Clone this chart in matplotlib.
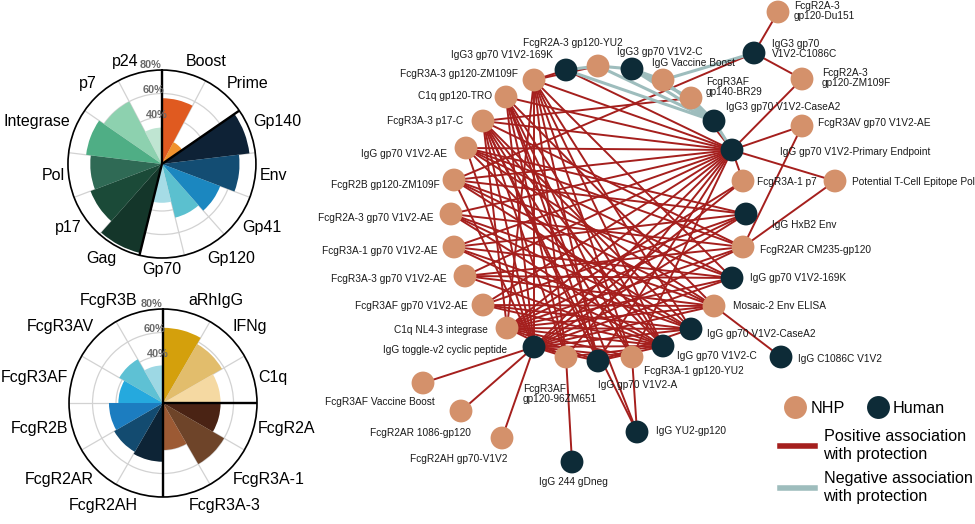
import numpy as np
import matplotlib
matplotlib.use("Agg")
import matplotlib.pyplot as plt
from matplotlib.lines import Line2D
from matplotlib.collections import LineCollection

plt.rcParams['font.family'] = ['Liberation Sans', 'DejaVu Sans']

# ---- rose charts (% of features) ----
top_cats = ['Boost', 'Prime', 'Gp140', 'Env', 'Gp41', 'Gp120', 'Gp70',
            'Gag', 'p17', 'Pol', 'Integrase', 'p7', 'p24']
top_vals = [56, 21, 75, 66, 53, 47, 33, 78, 65, 61, 65, 60, 31]
top_colors = ['#E05A20', '#F0922E', '#0E2236', '#134D73', '#1B87C0', '#5BC0CF', '#A6DCE6',
              '#14362A', '#1B4A38', '#2F6A55', '#4FAE85', '#8DD1AF', '#BFE5D2']
top_group_starts = [0, 2, 7]

bot_cats = ['aRhIgG', 'IFNg', 'C1q', 'FcgR2A', 'FcgR3A-1', 'FcgR3A-3',
            'FcgR2AH', 'FcgR2AR', 'FcgR2B', 'FcgR3AF', 'FcgR3AV', 'FcgR3B']
bot_vals = [64, 58, 49, 49, 60, 40, 50, 48, 46, 38, 43, 32]
bot_colors = ['#D4A00C', '#E2BD6C', '#F5D9A2', '#4A2314', '#6E4429', '#9C5A34',
              '#0D2436', '#134B70', '#1C7DC0', '#25A9DE', '#5EC1D4', '#9DD8E4']
bot_group_starts = [0, 3, 6]

r_ticks = [40, 60, 80]

# ---- network ----
node_ids = ['du151', 'c1086c3', 'zm109f_r', 'g3_169k', 'yu2_r2a', 'g3_c', 'vboost', 'br29',
            'g3_casea2', 'pe', 'r3av', 'p7', 'tcell', 'hxb2', 'cm235', 'g_169k', 'mosaic',
            'g_casea2', 'g_c', 'g_c1086c', 'r3a1_yu2', 'g_a', 'g_yu2', 'zm651', 'gdneg',
            'toggle', 'c1q_nl43', 'r3af_ae', 'r3a3_ae', 'r3a1_ae', 'r2a3_ae', 'r2b', 'g_ae',
            'p17c', 'c1q_tro', 'r3a3_zm', 'r3af_vb', 'r2ar_1086', 'r2ah']
node_labels = ['FcgR2A-3\ngp120-Du151', 'IgG3 gp70\nV1V2-C1086C', 'FcgR2A-3\ngp120-ZM109F',
               'IgG3 gp70 V1V2-169K', 'FcgR2A-3 gp120-YU2', 'IgG3 gp70 V1V2-C',
               'IgG Vaccine Boost', 'FcgR3AF\ngp140-BR29', 'IgG3 gp70 V1V2-CaseA2',
               'IgG gp70 V1V2-Primary Endpoint', 'FcgR3AV gp70 V1V2-AE', 'FcgR3A-1 p7',
               'Potential T-Cell Epitope Pol', 'IgG HxB2 Env', 'FcgR2AR CM235-gp120',
               'IgG gp70 V1V2-169K', 'Mosaic-2 Env ELISA', 'IgG gp70 V1V2-CaseA2',
               'IgG gp70 V1V2-C', 'IgG C1086C V1V2', 'FcgR3A-1 gp120-YU2', 'IgG gp70 V1V2-A',
               'IgG YU2-gp120', 'FcgR3AF\ngp120-96ZM651', 'IgG 244 gDneg',
               'IgG toggle-v2 cyclic peptide', 'C1q NL4-3 integrase', 'FcgR3AF gp70 V1V2-AE',
               'FcgR3A-3 gp70 V1V2-AE', 'FcgR3A-1 gp70 V1V2-AE', 'FcgR2A-3 gp70 V1V2-AE',
               'FcgR2B gp120-ZM109F', 'IgG gp70 V1V2-AE', 'FcgR3A-3 p17-C', 'C1q gp120-TRO',
               'FcgR3A-3 gp120-ZM109F', 'FcgR3AF Vaccine Boost', 'FcgR2AR 1086-gp120',
               'FcgR2AH gp70-V1V2']
node_kind = ['NHP', 'Human', 'NHP', 'Human', 'NHP', 'Human', 'NHP', 'NHP',
             'Human', 'Human', 'NHP', 'NHP', 'NHP', 'Human', 'NHP', 'Human', 'NHP',
             'Human', 'Human', 'Human', 'NHP', 'Human', 'Human', 'NHP', 'Human',
             'Human', 'NHP', 'NHP', 'NHP', 'NHP', 'NHP', 'NHP', 'NHP',
             'NHP', 'NHP', 'NHP', 'NHP', 'NHP', 'NHP']
# layout coordinates (pixel space of the original figure)
node_x = [778, 754, 802, 566, 598, 632, 663, 691, 714, 732, 802, 743, 835, 746, 743, 732, 714,
          691, 663, 781, 632, 598, 637, 566, 572, 534, 507, 483, 465, 454, 451, 454, 466,
          483, 506, 534, 423, 461, 502]
node_y = [12, 53, 79, 70, 66, 69, 80, 98, 121, 150, 126, 181, 181, 214, 247, 278, 306,
          329, 346, 357, 357, 361, 432, 357, 462, 347, 328, 305, 276, 247, 214, 180, 148,
          121, 97, 80, 383, 411, 438]

neg_edges = [('g3_169k', 'yu2_r2a'), ('yu2_r2a', 'g3_c'), ('g3_c', 'vboost'), ('vboost', 'c1086c3'),
             ('g3_169k', 'g3_casea2'), ('yu2_r2a', 'g3_casea2'), ('g3_c', 'g3_casea2'),
             ('vboost', 'g3_casea2'), ('br29', 'g3_casea2'), ('g3_casea2', 'pe'), ('g3_c', 'br29')]

pos_edges = [('du151', 'c1086c3'), ('c1086c3', 'zm109f_r'), ('c1086c3', 'r2b'), ('zm109f_r', 'pe'),
             ('g3_169k', 'r3a3_zm'), ('yu2_r2a', 'r3a3_zm'),
             ('zm651', 'gdneg'), ('g_yu2', 'r3a1_yu2'), ('g_c1086c', 'mosaic'), ('r3av', 'cm235'),
             ('tcell', 'cm235'), ('br29', 'p17c'), ('zm651', 'g_c'), ('g_a', 'g_casea2'), ('g_a', 'g_c')]
pos_edges += [('pe', n) for n in ['r3a3_zm', 'c1q_tro', 'p17c', 'g_ae', 'r2b', 'r2a3_ae', 'r3a1_ae',
                                  'r3a3_ae', 'r3af_ae', 'c1q_nl43', 'toggle', 'zm651', 'g_a',
                                  'r3a1_yu2', 'r3av', 'tcell', 'p7', 'br29', 'g3_169k']]
pos_edges += [('toggle', n) for n in ['r3af_vb', 'r2ar_1086', 'r2ah', 'p7', 'hxb2', 'cm235', 'g_169k',
                                      'mosaic', 'g_casea2', 'g_c', 'r3a3_zm', 'c1q_tro', 'p17c',
                                      'g_ae', 'r2b', 'zm651', 'g_a', 'r3a1_yu2']]
pos_edges += [('c1q_nl43', n) for n in ['hxb2', 'cm235', 'g_169k', 'p7', 'mosaic', 'g_casea2', 'g_c',
                                        'r3a1_yu2', 'g_a', 'zm651', 'r3a3_zm', 'p17c']]
pos_edges += [('g_ae', n) for n in ['cm235', 'g_169k', 'mosaic', 'g_c', 'hxb2']]
pos_edges += [('r2b', n) for n in ['hxb2', 'g_169k', 'g_casea2', 'mosaic']]
pos_edges += [('r2a3_ae', n) for n in ['cm235', 'mosaic', 'g_casea2', 'g_c']]
pos_edges += [('r3a1_ae', n) for n in ['hxb2', 'g_169k', 'g_casea2', 'g_c']]
pos_edges += [('r3a3_ae', n) for n in ['cm235', 'mosaic', 'g_c', 'g_169k']]
pos_edges += [('r3af_ae', n) for n in ['hxb2', 'g_casea2', 'g_c', 'mosaic']]
pos_edges += [('r3a3_zm', n) for n in ['zm651', 'g_a', 'r3a1_yu2', 'g_c', 'g_casea2', 'g_169k']]
pos_edges += [('c1q_tro', n) for n in ['zm651', 'g_a', 'r3a1_yu2', 'g_yu2', 'g_c', 'mosaic']]
pos_edges += [('p17c', n) for n in ['zm651', 'g_a', 'r3a1_yu2', 'g_yu2', 'g_casea2', 'g_c', 'cm235']]

# label placement: (x, y, ha)
label_layout = [(794, 11, 'left'), (772, 49, 'left'), (822, 78, 'left'), (553, 55, 'right'),
                (573, 43, 'center'), (660, 52, 'center'), (652, 63, 'left'), (706, 87, 'left'),
                (726, 107, 'left'), (780, 152, 'left'), (818, 123, 'left'), (757, 182, 'left'),
                (852, 182, 'left'), (772, 225, 'left'), (760, 250, 'left'), (750, 278, 'left'),
                (733, 306, 'left'), (707, 334, 'left'), (677, 356, 'left'), (798, 359, 'left'),
                (644, 371, 'left'), (598, 385, 'left'), (656, 431, 'left'), (523, 394, 'left'),
                (573, 482, 'center'), (507, 350, 'right'), (488, 330, 'right'), (468, 306, 'right'),
                (447, 279, 'right'), (437, 251, 'right'), (433, 218, 'right'), (440, 185, 'right'),
                (447, 154, 'right'), (463, 121, 'right'), (492, 96, 'right'), (518, 74, 'right'),
                (380, 402, 'center'), (420, 433, 'center'), (459, 459, 'center')]

NHP_COLOR = '#D4916B'
HUMAN_COLOR = '#0D2B37'
POS_COLOR = '#A51F1D'
NEG_COLOR = '#9EBDBD'

fig = plt.figure(figsize=(9.75, 5.24), dpi=100)

# network axes spans the figure in pixel space
ax = fig.add_axes([0, 0, 1, 1])
ax.set_xlim(0, 975)
ax.set_ylim(524, 0)
ax.axis('off')

pos = {n: (x, y) for n, x, y in zip(node_ids, node_x, node_y)}
ax.add_collection(LineCollection([[pos[a], pos[b]] for a, b in pos_edges],
                                 colors=POS_COLOR, linewidths=1.4, zorder=1))
ax.add_collection(LineCollection([[pos[a], pos[b]] for a, b in neg_edges],
                                 colors=NEG_COLOR, linewidths=2.2, zorder=2))
cols = [NHP_COLOR if k == 'NHP' else HUMAN_COLOR for k in node_kind]
ax.scatter(node_x, node_y, s=270, c=cols, edgecolors='none', zorder=3)
for lab, (lx, ly, ha) in zip(node_labels, label_layout):
    ax.text(lx, ly, lab, fontsize=7.3, ha=ha, va='center', color='#1a1a1a',
            linespacing=1.05, zorder=4)

node_handles = [Line2D([], [], ls='none', marker='o', ms=16.5, mfc=NHP_COLOR, mec='none', label='NHP'),
                Line2D([], [], ls='none', marker='o', ms=16.5, mfc=HUMAN_COLOR, mec='none', label='Human')]
leg1 = ax.legend(handles=node_handles, ncol=2, loc='upper left', bbox_to_anchor=(0.803, 0.235),
                 frameon=False, fontsize=11.6, handletextpad=0.2, columnspacing=1.3,
                 borderpad=0, borderaxespad=0, handlelength=1.5)
ax.add_artist(leg1)
edge_handles = [Line2D([], [], color=POS_COLOR, lw=4, label='Positive association\nwith protection'),
                Line2D([], [], color=NEG_COLOR, lw=4, label='Negative association\nwith protection')]
ax.legend(handles=edge_handles, loc='upper left', bbox_to_anchor=(0.8, 0.181), frameon=False,
          fontsize=11.6, handletextpad=0.5, borderpad=0, borderaxespad=0, handlelength=2.2,
          labelspacing=0.6)


def rose(rect, cats, vals, colors, group_starts):
    pax = fig.add_axes(rect, projection='polar')
    pax.set_theta_zero_location('N')
    pax.set_theta_direction(-1)
    n = len(cats)
    width = 2 * np.pi / n
    centers = np.arange(n) * width + width / 2
    pax.bar(centers, vals, width=width, bottom=0, color=colors, edgecolor='none', zorder=2)
    pax.set_ylim(0, 80)
    pax.set_yticks([20, 40, 60, 80])
    pax.set_yticklabels([])
    pax.set_xticks(np.arange(n) * width)
    pax.set_xticklabels([])
    pax.tick_params(axis='x', length=0)
    pax.grid(True, color='#D2D2D2', lw=0.9)
    pax.set_axisbelow(True)
    pax.spines['polar'].set_color('black')
    pax.spines['polar'].set_linewidth(1.2)
    for g in group_starts:
        pax.plot([g * width, g * width], [0, 80], color='black', lw=1.7, zorder=3,
                 solid_capstyle='butt')
    for th, lab in zip(centers, cats):
        s, c = np.sin(th), np.cos(th)
        ha = 'left' if s > 0.1 else ('right' if s < -0.1 else 'center')
        va = 'bottom' if c > 0.3 else ('top' if c < -0.3 else 'center')
        pax.text(th, 83.5, lab, ha=ha, va=va, fontsize=11.5, color='black')
    for v in r_ticks:
        pax.text(np.deg2rad(-6.5), v * 1.06, f'{v}%', ha='center', va='center',
                 fontsize=7.8, fontweight='bold', color='#6a6a6a', zorder=4)
    return pax


rose([0.0697, 0.5076, 0.1928, 0.3588], top_cats, top_vals, top_colors, top_group_starts)
rose([0.0708, 0.0515, 0.1928, 0.3588], bot_cats, bot_vals, bot_colors, bot_group_starts)

fig.savefig('out.png', dpi=100)
